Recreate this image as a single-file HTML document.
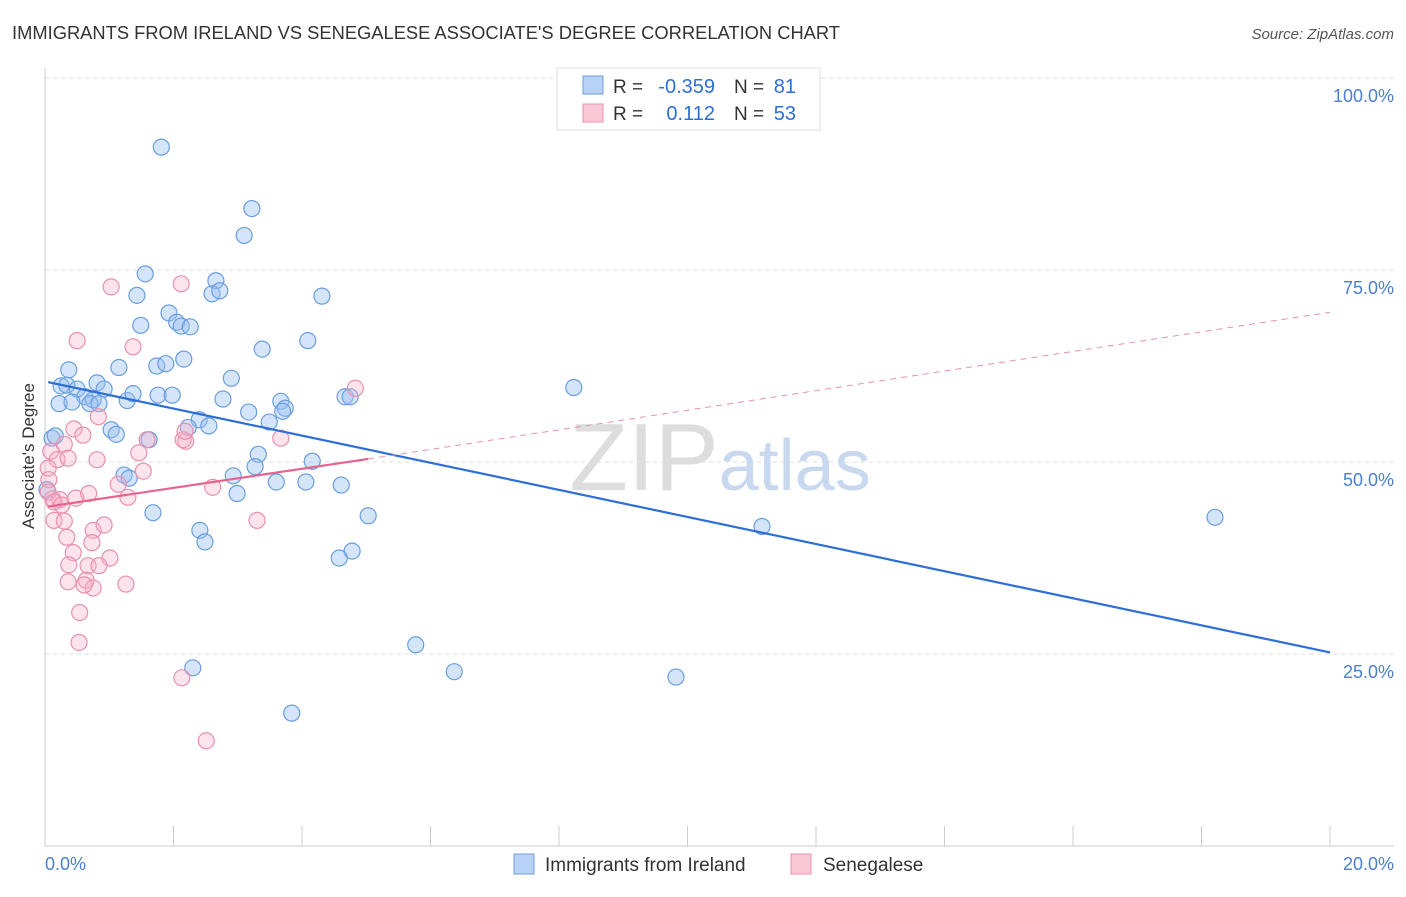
<!DOCTYPE html>
<html><head><meta charset="utf-8"><style>
body{margin:0;background:#fff;font-family:"Liberation Sans",sans-serif;}
svg text{font-family:"Liberation Sans",sans-serif;}
</style></head><body>
<svg width="1406" height="892">
<text x="12" y="39" font-size="18" fill="#333" textLength="828" lengthAdjust="spacingAndGlyphs">IMMIGRANTS FROM IRELAND VS SENEGALESE ASSOCIATE'S DEGREE CORRELATION CHART</text>
<text x="1394" y="39" font-size="15" fill="#555" text-anchor="end" font-style="italic">Source: ZipAtlas.com</text>
<g id="grid"></g>
<text x="720" y="490" font-size="96" fill="#ddd" text-anchor="middle" font-family="Liberation Serif">ZIP<tspan fill="#c8d8ef" font-family="Liberation Sans" font-size="72">atlas</tspan></text>
<g id="pts"></g>
<text transform="translate(34,456) rotate(-90)" font-size="17" fill="#333" text-anchor="middle">Associate's Degree</text>
<text x="45" y="870" font-size="18" fill="#4a7fd4">0.0%</text>
<text x="1394" y="870" font-size="18" fill="#4a7fd4" text-anchor="end">20.0%</text>
<g>
<rect x="557" y="68" width="263" height="62" fill="#fff" stroke="#ddd"/>
<rect x="583" y="76" width="20" height="18" fill="#b8d2f5" stroke="#6a9ee0"/>
<rect x="583" y="104" width="20" height="18" fill="#f9c7d6" stroke="#e891ad"/>
<text x="613" y="93" font-size="19" fill="#333">R =</text>
<text x="715" y="93" font-size="20" fill="#2d6fd6" text-anchor="end">-0.359</text>
<text x="734" y="93" font-size="19" fill="#333">N =</text>
<text x="796" y="93" font-size="20" fill="#2d6fd6" text-anchor="end">81</text>
<text x="613" y="120" font-size="19" fill="#333">R =</text>
<text x="715" y="120" font-size="20" fill="#2d6fd6" text-anchor="end">0.112</text>
<text x="734" y="120" font-size="19" fill="#333">N =</text>
<text x="796" y="120" font-size="20" fill="#2d6fd6" text-anchor="end">53</text>
</g>
<g>
<rect x="514" y="854" width="20" height="20" fill="#b8d2f5" stroke="#6a9ee0"/>
<text x="545" y="871" font-size="19" fill="#333">Immigrants from Ireland</text>
<rect x="791" y="854" width="20" height="20" fill="#f9c7d6" stroke="#e891ad"/>
<text x="823" y="871" font-size="19" fill="#333">Senegalese</text>
</g>
</svg>
<script>
const yTicks=[25,50,75,100];
const xTicks=[0,2,4,6,8,10,12,14,16,18,20];
const blueX=[1.81,3.22,3.10,1.56,2.66,1.43,2.60,2.72,4.31,1.93,1.49,2.05,2.12,2.26,4.09,3.38,0.37,2.16,1.15,1.74,1.88,2.90,0.25,0.34,0.50,0.81,0.92,0.62,0.75,1.76,1.98,2.77,3.67,3.74,0.22,0.42,0.70,0.84,1.28,1.37,3.17,3.70,4.67,4.75,8.23,2.40,2.55,3.49,1.03,1.11,2.23,1.62,0.11,3.32,4.16,3.27,2.93,1.23,1.31,3.60,4.06,4.61,2.99,1.68,5.03,2.41,2.49,4.78,4.58,11.16,18.21,5.77,6.37,9.82,2.30,3.84,0.03,0.16];
const blueY=[91,83,79.5,74.5,73.6,71.7,71.9,72.3,71.6,69.4,67.8,68.2,67.7,67.6,65.8,64.7,62,63.4,62.3,62.5,62.8,60.9,59.9,60,59.5,60.3,59.5,58.5,58.1,58.7,58.7,58.2,57.9,57,57.6,57.8,57.6,57.6,58,58.9,56.5,56.6,58.5,58.5,59.7,55.5,54.7,55.2,54.2,53.6,54.5,52.9,53.1,51,50.1,49.4,48.2,48.3,47.9,47.4,47.4,47,45.9,43.4,43,41.1,39.6,38.4,37.5,41.6,42.8,26.2,22.7,22,23.2,17.3,46.4,53.4];
const pinkX=[2.12,1.03,0.50,1.37,4.83,0.83,0.45,0.59,1.59,0.30,0.09,0.19,0.36,0.81,1.46,1.53,1.14,0.05,0.06,0.12,0.23,0.48,0.68,2.61,1.29,0.14,0.30,0.75,0.92,3.30,3.67,2.19,0.73,0.44,1.01,0.37,0.67,0.84,0.36,0.64,0.75,0.61,1.26,0.54,0.53,2.13,2.51,0.05,0.14,0.34,0.26,2.15,2.18];
const pinkY=[73.2,72.8,65.8,65,59.6,55.9,54.3,53.5,52.9,52.3,51.4,50.3,50.5,50.3,51.2,48.8,47.1,49.2,47.7,45.2,45.1,45.3,45.9,46.7,45.4,42.4,42.3,41.1,41.8,42.4,53.1,52.7,39.5,38.2,37.5,36.6,36.5,36.5,34.4,34.6,33.6,34,34.1,30.4,26.5,21.9,13.7,46.1,44.8,40.2,44.4,52.9,54];
const blueTrend=[[0.05,60.4],[20,25.2]];
const pinkSolid=[[0.05,44.2],[5.03,50.4]];
const pinkDash=[[5.03,50.4],[20,69.5]];
const X=v=>45+v/20*1285, Y=v=>846-v/100*768;
const NS='http://www.w3.org/2000/svg';
function mk(t,a,p){const e=document.createElementNS(NS,t);for(const k in a)e.setAttribute(k,a[k]);p.appendChild(e);return e;}
const g=document.getElementById('grid');
const ax=mk('line',{x1:45,y1:68,x2:45,y2:846,stroke:'#ccc'},g);


const bx=mk('line',{x1:45,y1:846,x2:1394,y2:846,stroke:'#ccc'},g);


yTicks.forEach(t=>{
 const l=mk('line',{x1:45,x2:1394,y1:Y(t),y2:Y(t),stroke:'#ddd','stroke-dasharray':'4,4'},g);
 
 
 const tx=mk('text',{x:1394,y:Y(t)+24,'font-size':18,fill:'#4a7fd4','text-anchor':'end'},g);
 tx.textContent=t.toFixed(1)+'%';
 
 
});
xTicks.forEach(t=>{
 const l=mk('line',{x1:X(t),x2:X(t),y1:826,y2:846,stroke:'#ccc'},g);
 
 
});
const p=document.getElementById('pts');
blueX.forEach((v,i)=>{
 const c=mk('circle',{cx:X(v),cy:Y(blueY[i]),r:8,fill:'rgba(150,190,240,0.4)',stroke:'#6a9ee0','stroke-width':1.2},p);
 
 
});
pinkX.forEach((v,i)=>{
 const c=mk('circle',{cx:X(v),cy:Y(pinkY[i]),r:8,fill:'rgba(245,175,200,0.35)',stroke:'#e891ad','stroke-width':1.2},p);
 
 
});
function ln(a,st,w,dash,name){
 const l=mk('line',{x1:X(a[0][0]),y1:Y(a[0][1]),x2:X(a[1][0]),y2:Y(a[1][1]),stroke:st,'stroke-width':w},p);
 if(dash)l.setAttribute('stroke-dasharray',dash);
 
 
}
ln(blueTrend,'#2d6fd6',2.2,null,'ireland-trend-line');
ln(pinkSolid,'#e5648f',2.2,null,'senegalese-trend-line');
ln(pinkDash,'#e891ad',1,'6,5','senegalese-trend-extension');
</script>
</body></html>
